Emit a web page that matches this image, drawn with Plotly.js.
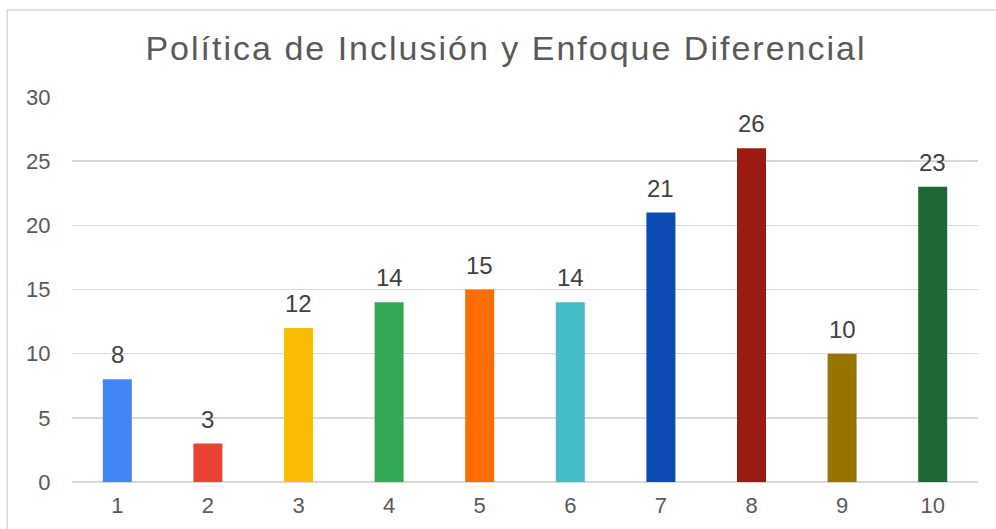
<!DOCTYPE html>
<html><head><meta charset="utf-8">
<script src="https://cdn.plot.ly/plotly-3.0.1.min.js"></script>
<style>html,body{margin:0;padding:0;background:#fff;}#chart{width:996px;height:529px;}
.gtitle{letter-spacing:2px;}</style>
</head><body><div id="chart"></div>
<script>
const categories = ['1','2','3','4','5','6','7','8','9','10'];
const values = [8, 3, 12, 14, 15, 14, 21, 26, 10, 23];
const barColors = ['#4285F4','#EA4335','#FBBC04','#34A853','#FF6D01','#46BDC6','#0B4BB3','#9A1B12','#977300','#1F6734'];
const yTicks = [0, 5, 10, 15, 20, 25, 30];

const FONT = 'Liberation Sans, Arial, sans-serif';
const trace = {
  type: 'bar', x: categories, y: values,
  marker: {color: barColors},
  width: 0.32,
  hoverinfo: 'none'
};
// category axis positions: annotation x given as category index
const labels = categories.map((c, i) => ({
  x: i, y: values[i], xref: 'x', yref: 'y', text: String(values[i]),
  showarrow: false, yanchor: 'bottom', yshift: 9,
  font: {family: FONT, size: 24, color: '#404040'}
}));
const layout = {
  width: 996, height: 529,
  margin: {l: 72, r: 18, t: 97, b: 47},
  paper_bgcolor: '#fff', plot_bgcolor: '#fff',
  showlegend: false,
  title: {text: 'Política de Inclusión y Enfoque Diferencial', x: 0.508, xanchor: 'center', y: 0.910, yanchor: 'middle',
          font: {family: FONT, size: 34, color: '#595959'}},
  xaxis: {type: 'category', range: [-0.5, categories.length - 0.5], autorange: false,
          tickfont: {family: FONT, size: 22, color: '#595959'},
          showgrid: false, zeroline: false, showline: false, ticks: 'outside', ticklen: 4, tickcolor: 'rgba(0,0,0,0)'},
  yaxis: {range: [0, 30], autorange: false, tickvals: yTicks, ticktext: yTicks.map(String),
          tickfont: {family: FONT, size: 22, color: '#595959'},
          gridcolor: '#d9d9d9', gridwidth: 1.5, zeroline: true, zerolinecolor: '#d9d9d9', zerolinewidth: 1.5,
          showline: false, ticks: 'outside', ticklen: 16, tickcolor: 'rgba(0,0,0,0)'},
  annotations: labels,
  shapes: [{type: 'rect', xref: 'paper', yref: 'paper', x0: -0.0715, x1: 1.04, y0: -0.3, y1: 1.226,
            line: {color: '#d9d9d9', width: 1.5}, fillcolor: 'rgba(0,0,0,0)', layer: 'below'}]
};
Plotly.newPlot('chart', [trace], layout, {staticPlot: true, displayModeBar: false});
</script></body></html>
